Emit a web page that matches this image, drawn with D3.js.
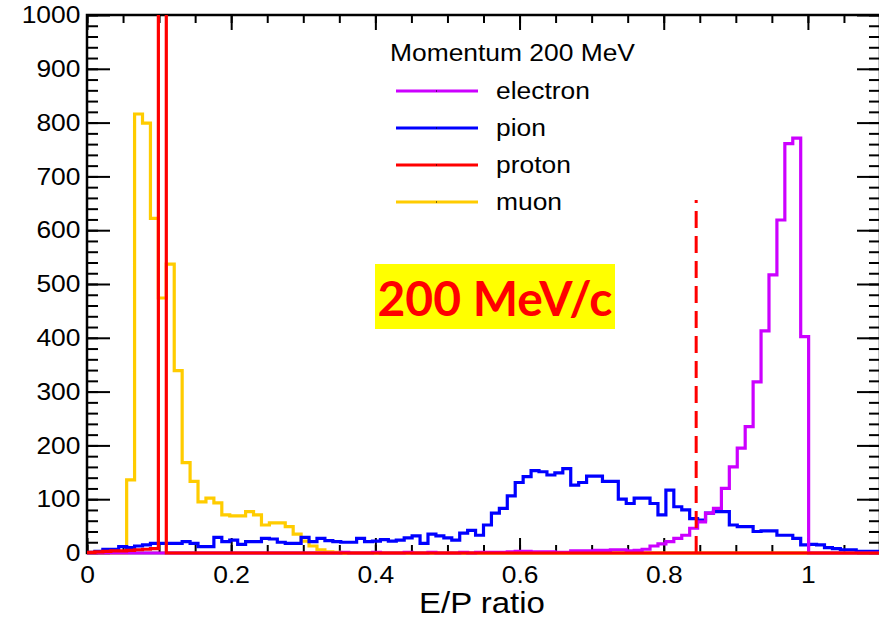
<!DOCTYPE html>
<html>
<head>
<meta charset="utf-8">
<script src="https://cdn.jsdelivr.net/npm/d3@7"></script>
<style>
  body { margin: 0; background: #fff; }
  svg { display: block; }
  text { font-family: "Liberation Sans", Arial, sans-serif; fill: #000; }
</style>
</head>
<body>
<svg id="chart" width="879" height="624"></svg>
<script>
// 100 bins of width 0.011 over E/P = 0 .. 1.1
const binWidth = 0.011;

const electron = [
  0, 0, 0, 0, 0, 0, 0, 0, 0, 0,
  0, 0, 0, 0, 0, 0, 0, 0, 0, 0,
  0, 0, 0, 0, 0, 0, 0, 0, 0, 0,
  0, 0, 1, 0, 0, 0, 1, 0, 0, 0,
  1, 0, 0, 1, 0, 0, 0, 1, 0, 1,
  1, 1, 1, 2, 3, 3, 2, 2, 2, 1,
  1, 4, 4, 4, 5, 5, 6, 6, 4, 5,
  7, 13, 17, 21, 27, 33, 46, 58, 74, 83,
  120, 160, 195, 235, 318, 413, 517, 619, 761, 771,
  402, 0, 0, 0, 0, 0, 0, 0, 0, 0
];

const pion = [
  1, 3, 7, 7, 12, 10, 13, 15, 18, 18,
  18, 18, 21, 18, 12, 12, 29, 21, 24, 16,
  21, 21, 27, 26, 20, 18, 18, 29, 21, 27,
  23, 21, 20, 20, 27, 21, 22, 25, 22, 24,
  28, 32, 18, 35, 32, 28, 24, 37, 42, 33,
  52, 74, 83, 106, 131, 142, 153, 151, 145, 149,
  157, 126, 131, 143, 143, 133, 133, 100, 92, 102,
  102, 92, 71, 117, 86, 80, 64, 61, 74, 77,
  77, 52, 49, 49, 40, 41, 41, 33, 33, 27,
  15, 16, 15, 10, 8, 6, 6, 3, 3, 3
];

const proton = [
  1, 2, 3, 4, 4, 5, 6, 7, 8, 3000,
  0, 0, 0, 0, 0, 0, 0, 0, 0, 0,
  0, 0, 0, 0, 0, 0, 0, 0, 0, 0,
  0, 0, 0, 0, 0, 0, 0, 0, 0, 0,
  0, 0, 0, 0, 0, 0, 0, 0, 0, 0,
  0, 0, 0, 0, 0, 0, 0, 0, 0, 0,
  0, 0, 0, 0, 0, 0, 0, 0, 0, 0,
  0, 0, 0, 0, 0, 0, 0, 0, 0, 0,
  0, 0, 0, 0, 0, 0, 0, 0, 0, 0,
  0, 0, 0, 0, 0, 0, 0, 0, 0, 0
];

const muon = [
  0, 0, 0, 0, 0, 136, 816, 799, 622, 474,
  537, 339, 168, 133, 95, 102, 93, 71, 69, 69,
  77, 71, 52, 56, 56, 49, 35, 22, 13, 6,
  2, 1, 0, 0, 0, 0, 0, 0, 0, 0,
  0, 0, 0, 0, 0, 0, 0, 0, 0, 0,
  0, 0, 0, 0, 0, 0, 0, 0, 0, 0,
  0, 0, 0, 0, 0, 0, 0, 0, 0, 0,
  0, 0, 0, 0, 0, 0, 0, 0, 0, 0,
  0, 0, 0, 0, 0, 0, 0, 0, 0, 0,
  0, 0, 0, 0, 0, 0, 0, 0, 0, 0
];

const legendNames = ["electron", "pion", "proton", "muon"];
const legendColors = ["#cc00ff", "#0000ff", "#ff0000", "#ffcc00"];
const xTickLabels = [0, 0.2, 0.4, 0.6, 0.8, 1];
const yTickLabels = [0, 100, 200, 300, 400, 500, 600, 700, 800, 900, 1000];
const cutValue = 0.845;   // dashed cut line
const cutHeight = 656;

const svg = d3.select("#chart");
const mLeft = 87, mRight = 880, mTop = 15, mBottom = 553;

const x = d3.scaleLinear().domain([0, 1.1]).range([mLeft, mRight]);
const y = d3.scaleLinear().domain([0, 1000]).range([mBottom, mTop]);

svg.append("defs").append("clipPath").attr("id", "plotclip")
  .append("rect")
  .attr("x", mLeft).attr("y", mTop)
  .attr("width", mRight - mLeft).attr("height", mBottom - mTop + 3);

// axes (ticks point inwards, mirrored on top/right)
const xMinor = d3.range(0, 23).map(i => i * 0.05);
const yMinor = d3.range(0, 51).map(i => i * 20);

function drawTicks(axis, scale, values, size, translate) {
  const g = svg.append("g").attr("transform", translate)
    .call(axis(scale).tickValues(values).tickSize(size).tickFormat(""));
  g.select(".domain").remove();
  g.selectAll("line").attr("stroke", "#000").attr("stroke-width", 2);
  return g;
}
drawTicks(d3.axisBottom, x, xMinor, -8, `translate(0,${mBottom})`);
drawTicks(d3.axisBottom, x, xTickLabels, -15, `translate(0,${mBottom})`);
drawTicks(d3.axisTop, x, xMinor, -8, `translate(0,${mTop})`);
drawTicks(d3.axisTop, x, xTickLabels, -15, `translate(0,${mTop})`);
drawTicks(d3.axisLeft, y, yMinor, -11, `translate(${mLeft},0)`);
drawTicks(d3.axisLeft, y, yTickLabels, -23, `translate(${mLeft},0)`);
drawTicks(d3.axisRight, y, yMinor, -11, `translate(${mRight},0)`);
drawTicks(d3.axisRight, y, yTickLabels, -23, `translate(${mRight},0)`);

// tick labels
const xLab = svg.append("g").attr("transform", `translate(0,${mBottom})`)
  .call(d3.axisBottom(x).tickValues(xTickLabels).tickSize(0).tickPadding(13)
    .tickFormat(d => String(+d.toFixed(1))));
xLab.select(".domain").remove();
xLab.selectAll("text").attr("font-size", 24)
  .attr("transform", "scale(1.1,1)");

const yLab = svg.append("g").attr("transform", `translate(${mLeft},0)`)
  .call(d3.axisLeft(y).tickValues(yTickLabels).tickSize(0).tickPadding(6)
    .tickFormat(d3.format("d")));
yLab.select(".domain").remove();
yLab.selectAll("text").attr("font-size", 24)
  .attr("transform", "scale(1.1,1)");

// frame
svg.append("rect")
  .attr("x", mLeft).attr("y", mTop)
  .attr("width", mRight - mLeft).attr("height", mBottom - mTop)
  .attr("fill", "none").attr("stroke", "#000").attr("stroke-width", 2.5);

// step histograms, drawn over the frame like the original
const step = d3.line()
  .x(d => x(d[0]))
  .y(d => y(d[1]))
  .curve(d3.curveStepAfter);

function histPoints(values) {
  const pts = [[0, 0]];
  values.forEach((v, i) => pts.push([i * binWidth, v]));
  pts.push([values.length * binWidth, values[values.length - 1]]);
  return pts;
}

const plot = svg.append("g").attr("clip-path", "url(#plotclip)");
const drawOrder = [
  [muon, "#ffcc00"],
  [pion, "#0000ff"],
  [electron, "#cc00ff"],
  [proton, "#ff0000"]
];
drawOrder.forEach(([vals, col]) => {
  plot.append("path")
    .attr("d", step(histPoints(vals)))
    .attr("fill", "none")
    .attr("stroke", col)
    .attr("stroke-width", 3.2)
    .attr("stroke-linejoin", "miter");
});

plot.append("line")
  .attr("x1", x(cutValue)).attr("x2", x(cutValue))
  .attr("y1", y(0)).attr("y2", y(cutHeight))
  .attr("stroke", "#ff0000")
  .attr("stroke-width", 3)
  .attr("stroke-dasharray", "17,8");

// axis title
svg.append("text")
  .attr("transform", "translate(482,613) scale(1.1,1)")
  .attr("text-anchor", "middle")
  .attr("font-size", 30)
  .text("E/P ratio");

// legend
const legend = svg.append("g");
legend.append("text")
  .attr("transform", "translate(390,61) scale(1.1,1)")
  .attr("font-size", 24)
  .text("Momentum 200 MeV");
legendNames.forEach((name, i) => {
  const ly = 91 + i * 37;
  legend.append("line")
    .attr("x1", 396).attr("x2", 478)
    .attr("y1", ly).attr("y2", ly)
    .attr("stroke", legendColors[i]).attr("stroke-width", 3);
  legend.append("rect")
    .attr("x", 436).attr("y", ly - 0.5).attr("width", 1).attr("height", 1)
    .attr("fill", "#000");
  legend.append("text")
    .attr("transform", `translate(496,${ly + 8}) scale(1.1,1)`)
    .attr("font-size", 24)
    .text(name);
});

// momentum label
svg.append("rect")
  .attr("x", 375).attr("y", 264)
  .attr("width", 240).attr("height", 65)
  .attr("fill", "#ffff00");
svg.append("text")
  .attr("x", 495).attr("y", 316)
  .attr("text-anchor", "middle")
  .style("font-family", "Lato, 'Open Sans', sans-serif")
  .style("font-weight", 700)
  .style("font-size", "48px")
  .style("fill", "#ff0000")
  .text("200 MeV/c");
</script>
</body>
</html>
